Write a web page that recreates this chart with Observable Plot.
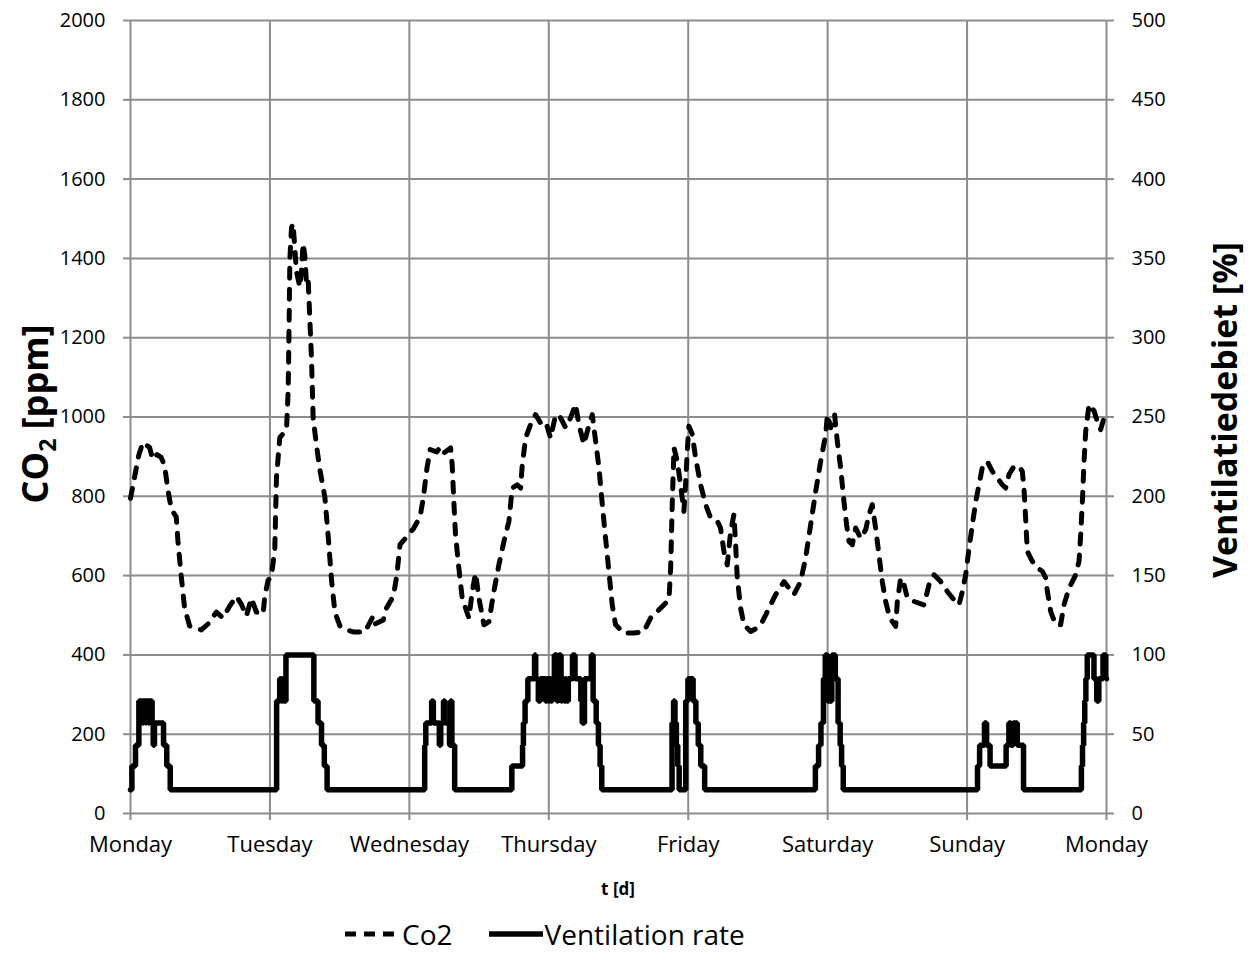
<!DOCTYPE html>
<html>
<head>
<meta charset="utf-8">
<script src="https://cdn.jsdelivr.net/npm/d3@7"></script>
<script src="https://cdn.jsdelivr.net/npm/@observablehq/plot@0.6"></script>
<style>
  html, body { margin: 0; padding: 0; background: #fff; }
  #wrap { position: relative; width: 1256px; height: 957px; font-family: "Open Sans", sans-serif; }
  #legend { position: absolute; left: 340px; top: 920px; display: flex; align-items: center; font-size: 28px; color: #000; line-height: 1; }
  #legend .item { display: flex; align-items: center; }
  #legend svg { display: block; }
</style>
</head>
<body>
<div id="wrap">
  <div id="chart"></div>
  <div id="legend"></div>
</div>
<script>
// ---- Data ----
const dayNames = ["Monday", "Tuesday", "Wednesday", "Thursday", "Friday", "Saturday", "Sunday", "Monday"];
const dayTicks = [0, 1, 2, 3, 4, 5, 6, 7];
const ppmTicks = [0, 200, 400, 600, 800, 1000, 1200, 1400, 1600, 1800, 2000];

// CO2 concentration [ppm] vs time [days since Monday 00:00]
const co2Day = [0.000,0.030,0.060,0.089,0.137,0.160,0.190,0.220,0.244,0.268,0.292,0.328,0.340,0.364,0.388,0.424,0.472,0.508,0.556,0.616,0.663,0.711,0.759,0.795,0.831,0.867,0.903,0.951,0.963,0.987,
1.011,1.035,1.047,1.071,1.095,1.119,1.131,1.138,1.143,1.155,1.166,1.178,1.190,1.214,1.226,1.238,1.250,1.262,1.274,1.286,1.298,1.310,1.334,1.358,1.394,1.418,1.442,1.466,1.502,1.550,1.598,1.681,1.741,1.753,1.813,1.836,1.885,1.909,1.933,1.981,
2.029,2.077,2.101,2.125,2.149,2.196,2.224,2.250,2.296,2.307,2.319,2.331,2.355,2.379,2.427,2.451,2.475,2.499,2.535,2.571,2.606,2.642,2.678,2.714,2.738,2.774,2.798,2.810,2.834,2.869,2.905,2.941,2.977,
3.013,3.049,3.085,3.121,3.156,3.192,3.216,3.252,3.276,3.312,3.336,3.360,3.384,3.407,3.431,3.455,3.479,3.539,3.611,3.682,3.730,3.802,3.862,3.874,3.886,3.898,3.922,3.945,3.969,3.981,3.993,
4.005,4.029,4.053,4.089,4.125,4.161,4.209,4.232,4.256,4.280,4.304,4.328,4.340,4.352,4.376,4.400,4.448,4.490,4.519,4.567,4.627,4.687,4.758,4.806,4.842,4.878,4.914,4.950,4.986,4.998,
5.022,5.050,5.069,5.093,5.117,5.136,5.153,5.177,5.201,5.237,5.273,5.297,5.320,5.344,5.368,5.392,5.416,5.440,5.464,5.488,5.500,5.524,5.548,5.572,5.619,5.691,5.727,5.763,5.811,5.858,5.906,5.942,5.966,5.990,
6.014,6.038,6.062,6.086,6.109,6.145,6.181,6.217,6.253,6.277,6.301,6.337,6.373,6.396,6.408,6.420,6.432,6.468,6.504,6.540,6.564,6.576,6.600,6.636,6.671,6.695,6.731,6.779,6.803,6.815,6.827,6.839,6.851,6.875,6.911,6.934,6.958,6.982,7.000];
const co2Ppm = [795,850,905,936,923,893,905,898,878,818,768,748,688,598,518,473,468,463,478,508,493,523,548,528,498,543,508,503,548,588,
598,668,848,948,958,968,1068,1248,1398,1478,1488,1428,1368,1328,1368,1438,1408,1338,1348,1248,1148,998,928,868,798,698,588,508,473,463,458,458,498,478,488,518,548,598,678,698,
718,748,798,868,918,912,925,910,922,880,787,703,619,543,493,560,606,543,476,484,560,627,686,737,821,829,821,880,947,981,1006,985,989,
947,1006,998,973,998,1032,981,931,964,1006,939,872,779,695,611,526,476,455,455,459,493,518,539,619,787,922,888,829,762,829,914,
977,956,897,829,779,745,737,720,661,627,711,754,678,594,518,476,459,467,475,509,552,585,552,585,644,728,812,888,956,1006,
973,1006,939,872,787,728,686,678,720,694,716,754,779,720,653,585,535,501,484,472,535,594,577,543,535,526,577,602,585,560,539,526,560,602,
669,728,787,829,872,888,863,846,829,821,855,876,876,863,821,745,661,636,619,611,594,560,509,476,476,526,568,602,636,703,787,888,964,1032,1015,989,968,998,1015];

// Ventilation rate [%] (step changes) vs time [days]
const ventDay = [0.000,0.010,0.036,0.060,0.072,0.078,0.088,0.094,0.110,0.115,0.130,0.136,0.155,0.163,0.172,0.237,0.260,0.285,
1.048,1.070,1.080,1.090,1.100,1.115,1.315,1.345,1.370,1.390,1.410,
2.110,2.118,2.160,2.172,2.215,2.225,2.245,2.255,2.288,2.295,2.305,2.325,
2.735,2.812,2.818,2.830,2.850,2.898,2.906,2.925,2.940,2.975,2.985,2.995,3.005,3.015,3.025,3.040,3.058,3.066,3.072,3.088,3.096,3.110,3.120,3.128,3.140,3.170,3.188,3.230,3.240,3.256,3.305,3.318,3.340,3.356,3.368,3.380,
3.884,3.895,3.905,3.915,3.925,3.935,3.982,3.998,4.035,4.055,4.072,4.090,4.118,
4.912,4.935,4.952,4.970,4.983,5.000,5.030,5.055,5.075,5.090,5.100,5.112,
6.075,6.090,6.125,6.140,6.165,6.280,6.300,6.315,6.330,6.360,6.405,
6.820,6.828,6.836,6.844,6.852,6.862,6.910,6.930,6.945,6.975,6.995,7.000];
const ventPct = [15,30,43,71,57,71,57,71,57,71,57,71,57,43,57,43,30,15,
71,85,71,85,71,100,71,57,43,30,15,
43,57,71,57,43,57,71,57,43,71,43,15,
30,43,57,71,85,100,85,71,85,71,85,71,85,71,85,100,71,85,100,71,85,71,85,71,85,100,85,71,57,85,100,71,57,43,30,15,
57,71,57,43,30,15,71,85,71,57,43,30,15,
30,43,57,85,100,71,100,85,57,43,30,15,
30,43,57,43,30,43,57,43,57,43,15,
30,43,57,71,85,100,85,71,85,100,85,85];

// Right axis: ventilation % shown on the same vertical scale (100 % ↔ 400 ppm)
const pctToPpm = 4;

const co2 = co2Day.map((d, i) => ({day: d, ppm: co2Ppm[i]}));
const vent = ventDay.map((d, i) => ({day: d, pct: ventPct[i]}));

const grid = "#8c8c8c";
const co2Dash = "10,11";

const chart = Plot.plot({
  width: 1256,
  height: 905,
  marginLeft: 130,
  marginRight: 150,
  marginTop: 20,
  marginBottom: 92,
  style: {fontFamily: "'Open Sans', sans-serif", fontSize: "20px", color: "black", background: "white", overflow: "visible"},
  x: {domain: [0, 7], label: null},
  y: {domain: [0, 2000], label: null},
  marks: [
    Plot.gridY({ticks: ppmTicks, stroke: grid, strokeOpacity: 1, strokeWidth: 2}),
    Plot.gridX({ticks: dayTicks, stroke: grid, strokeOpacity: 1, strokeWidth: 2}),
    Plot.axisY({ticks: ppmTicks, anchor: "left", tickSize: 7, tickPadding: 18, stroke: grid, strokeWidth: 2, label: null, fontSize: 20, tickFormat: d => String(d)}),
    Plot.axisY({ticks: ppmTicks, anchor: "right", tickSize: 7, tickPadding: 18, stroke: grid, strokeWidth: 2, label: null, fontSize: 20, tickFormat: d => String(d / pctToPpm)}),
    Plot.axisX({ticks: dayTicks, anchor: "bottom", tickSize: 7, tickPadding: 16, stroke: grid, strokeWidth: 2, label: null, fontSize: 22, tickFormat: i => dayNames[i]}),
    Plot.line(vent, {x: "day", y: d => d.pct * pctToPpm, curve: "step-after", stroke: "black", strokeWidth: 5.5, strokeLinejoin: "miter"}),
    Plot.line(co2, {x: "day", y: "ppm", stroke: "black", strokeWidth: 5, strokeDasharray: co2Dash, strokeLinecap: "round", strokeLinejoin: "round"})
  ]
});
document.getElementById("chart").appendChild(chart);

// Axis titles
const svg = d3.select(chart);
const leftTitle = svg.append("text")
  .attr("transform", "translate(48,414) rotate(-90)")
  .attr("text-anchor", "middle")
  .attr("font-family", "'Open Sans', sans-serif")
  .attr("font-weight", "bold")
  .attr("font-size", 36)
  .attr("fill", "black");
leftTitle.append("tspan").text("CO");
leftTitle.append("tspan").attr("font-size", 23).attr("dy", 8).text("2");
leftTitle.append("tspan").attr("dy", -8).text(" [ppm]");

svg.append("text")
  .attr("transform", "translate(1237,410) rotate(-90)")
  .attr("text-anchor", "middle")
  .attr("font-family", "'Open Sans', sans-serif")
  .attr("font-weight", "bold")
  .attr("font-size", 34)
  .attr("fill", "black")
  .text("Ventilatiedebiet [%]");

svg.append("text")
  .attr("x", 618).attr("y", 895)
  .attr("text-anchor", "middle")
  .attr("font-family", "'Open Sans', sans-serif")
  .attr("font-weight", "bold")
  .attr("font-size", 17)
  .attr("fill", "black")
  .text("t [d]");

// Legend (HTML, below the chart)
const legend = d3.select("#legend");
const items = [
  {label: "Co2", dash: "11,8"},
  {label: "Ventilation rate", dash: null}
];
items.forEach((it, i) => {
  const item = legend.append("div").attr("class", "item").style("margin-right", i === 0 ? "34px" : "0px");
  const s = item.append("svg").attr("width", 56).attr("height", 20).style("margin-right", it.dash ? "6px" : "2px");
  s.append("line").attr("x1", it.dash ? 5 : 2).attr("x2", it.dash ? 54 : 56).attr("y1", 10).attr("y2", 10)
    .attr("stroke", "black").attr("stroke-width", it.dash ? 5 : 5.5)
    .attr("stroke-dasharray", it.dash).attr("stroke-linecap", "butt");
  item.append("span").text(it.label);
});
</script>
</body>
</html>
